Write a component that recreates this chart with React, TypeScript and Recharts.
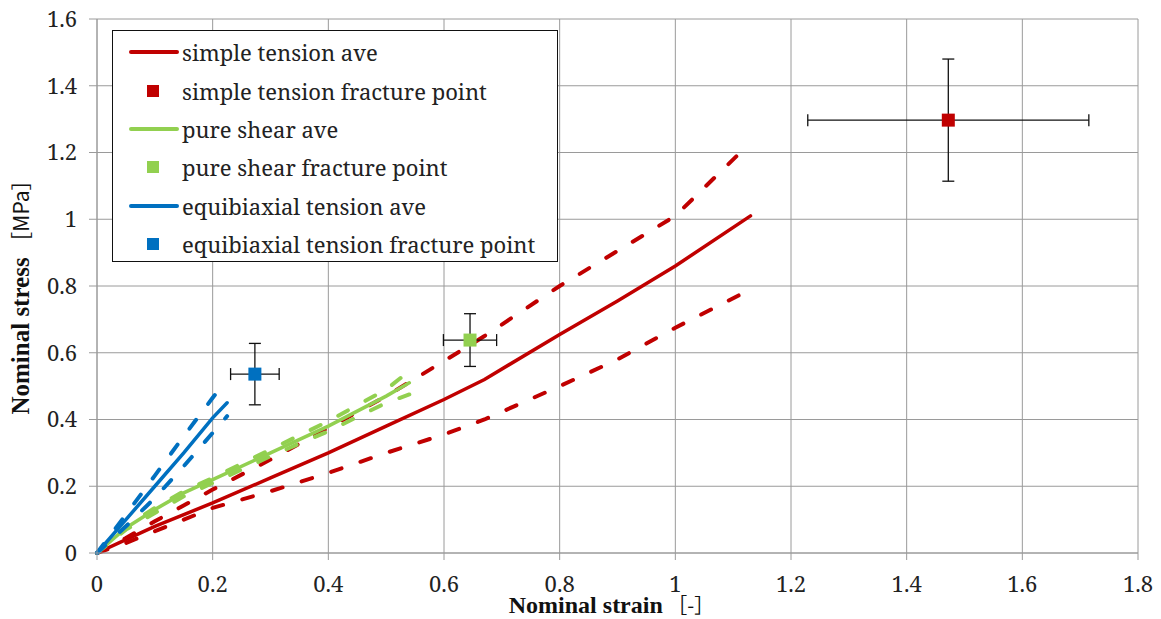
import React from 'react'
import { ComposedChart, Line, Scatter, ErrorBar, XAxis, YAxis, CartesianGrid, Legend } from 'recharts'

const RED = '#C00000'
const GREEN = '#92D050'
const BLUE = '#0070C0'

// simple tension (average and the two scatter bounds)
const stStrain = [0, 0.05, 0.1, 0.2, 0.3, 0.4, 0.5, 0.6, 0.67, 0.8, 0.9, 1.0, 1.13]
const stAve = [0, 0.04, 0.08, 0.15, 0.225, 0.3, 0.38, 0.46, 0.52, 0.655, 0.755, 0.86, 1.01]
const stUpper = [0, 0.045, 0.095, 0.19, 0.28, 0.375, 0.47, 0.575, 0.65, 0.8, 0.905, 1.01, 1.23]
const stLower = [0, 0.03, 0.065, 0.135, 0.185, 0.24, 0.3, 0.355, 0.4, 0.5, 0.58, 0.675, 0.79]

// pure shear
const psStrain = [0, 0.05, 0.1, 0.15, 0.2, 0.3, 0.4, 0.5, 0.54]
const psAve = [0, 0.075, 0.13, 0.18, 0.22, 0.3, 0.38, 0.47, 0.51]
const psUpper = [0, 0.08, 0.135, 0.185, 0.225, 0.31, 0.395, 0.49, 0.545]
const psLower = [0, 0.07, 0.12, 0.17, 0.21, 0.29, 0.365, 0.45, 0.475]

// equibiaxial tension
const ebStrain = [0, 0.05, 0.1, 0.15, 0.2, 0.225]
const ebAve = [0, 0.1, 0.2, 0.3, 0.405, 0.45]
const ebUpper = [0, 0.115, 0.232, 0.35, 0.465, 0.52]
const ebLower = [0, 0.08, 0.165, 0.26, 0.36, 0.41]

// fracture points: simple tension, pure shear, equibiaxial tension
const fracStrain = [1.472, 0.645, 0.273]
const fracStress = [1.297, 0.638, 0.536]
const fracStrainErr = [0.243, 0.046, 0.042]
const fracStressErr = [0.183, 0.079, 0.092]
const fracColors = [RED, GREEN, BLUE]

const xTicks = [0, 0.2, 0.4, 0.6, 0.8, 1, 1.2, 1.4, 1.6, 1.8]
const yTicks = [0, 0.2, 0.4, 0.6, 0.8, 1, 1.2, 1.4, 1.6]

const legendItems = [
    { label: 'simple tension ave', color: RED, kind: 'line' },
    { label: 'simple tension fracture point', color: RED, kind: 'square' },
    { label: 'pure shear ave', color: GREEN, kind: 'line' },
    { label: 'pure shear fracture point', color: GREEN, kind: 'square' },
    { label: 'equibiaxial tension ave', color: BLUE, kind: 'line' },
    { label: 'equibiaxial tension fracture point', color: BLUE, kind: 'square' },
]

const SERIF = 'Noto Serif, Liberation Serif, serif'
const TITLE_FONT = 'Liberation Serif, serif'
const CJK = 'Noto Sans CJK JP, sans-serif'

const zip = (xs: number[], ys: number[]) => xs.map((x, i) => ({ x, y: ys[i] }))

const fracData = fracStrain.map((x, i) => [{
    x,
    y: fracStress[i],
    ex: fracStrainErr[i],
    ey: fracStressErr[i],
}])

const Square = (props: any) => {
    const { cx, cy, fill } = props
    if (cx == null || cy == null) return null
    return <rect x={cx - 6.5} y={cy - 6.5} width={13} height={13} fill={fill} />
}

const LegendBox = () => (
    <div style={{
        boxSizing: 'border-box', width: 446, height: 232, border: '1px solid #111',
        background: '#fff', paddingTop: 2, fontFamily: SERIF, fontSize: 22, color: '#222',
    }}>
        {legendItems.map((item) => (
            <div key={item.label} style={{ height: 38.4, display: 'flex', alignItems: 'center', position: 'relative' }}>
                {item.kind === 'line' ? (
                    <div style={{ position: 'absolute', left: 16, width: 50, height: 4, borderRadius: 2, background: item.color }} />
                ) : (
                    <div style={{ position: 'absolute', left: 34, width: 12, height: 12, background: item.color }} />
                )}
                <span style={{ position: 'absolute', left: 69, whiteSpace: 'nowrap', lineHeight: 1 }}>{item.label}</span>
            </div>
        ))}
    </div>
)

const XTitle = (props: any) => {
    const { viewBox } = props
    const cx = viewBox.x + viewBox.width / 2 - 6
    return (
        <text x={cx} y={613} textAnchor="middle" fontFamily={TITLE_FONT} fontSize={24} fill="#111">
            <tspan fontWeight="bold">Nominal strain</tspan>
            <tspan fontFamily={CJK} fontSize={20}> ［-］</tspan>
        </text>
    )
}

const YTitle = () => {
    const cx = 20
    const cy = 292
    return (
        <text x={cx} y={cy} transform={`rotate(-90, ${cx}, ${cy})`} textAnchor="middle" dominantBaseline="central"
            fontFamily={TITLE_FONT} fontSize={25} fill="#111">
            <tspan fontWeight="bold">Nominal stress</tspan>
            <tspan fontFamily={CJK} fontSize={21}> ［MPa］</tspan>
        </text>
    )
}

export default function App() {
    const solid = { strokeWidth: 3.5, dot: false, isAnimationActive: false, strokeLinecap: 'round' as const }
    const dashed = { strokeWidth: 4, strokeDasharray: '11 20', dot: false, isAnimationActive: false, strokeLinecap: 'round' as const }

    return (
        <div style={{ position: 'absolute', left: 0, top: 0, width: 1161, height: 619, background: '#fff' }}>
            <ComposedChart width={1161} height={619} margin={{ top: 19, right: 23, left: 0, bottom: 0 }}>
                <CartesianGrid stroke="#9a9a9a" strokeWidth={1} />
                <XAxis
                    type="number"
                    dataKey="x"
                    domain={[0, 1.8]}
                    ticks={xTicks}
                    height={66}
                    tickSize={7}
                    tickMargin={16}
                    stroke="#9a9a9a"
                    tick={{ fontFamily: SERIF, fontSize: 22, fill: '#222' }}
                    tickFormatter={(v) => String(v)}
                    label={<XTitle />}
                />
                <YAxis
                    type="number"
                    dataKey="y"
                    domain={[0, 1.6]}
                    ticks={yTicks}
                    width={97}
                    tickSize={8}
                    tickMargin={12}
                    stroke="#9a9a9a"
                    tick={{ fontFamily: SERIF, fontSize: 22, fill: '#222' }}
                    tickFormatter={(v) => String(v)}
                    label={<YTitle />}
                />
                <Legend
                    layout="vertical"
                    align="center"
                    verticalAlign="middle"
                    wrapperStyle={{ left: 112, top: 30, width: 446, height: 232 }}
                    content={() => <LegendBox />}
                />

                <Line data={zip(stStrain, stUpper)} dataKey="y" stroke={RED} {...dashed} legendType="none" />
                <Line data={zip(stStrain, stLower)} dataKey="y" stroke={RED} {...dashed} legendType="none" />
                <Line data={zip(stStrain, stAve)} dataKey="y" stroke={RED} {...solid} />

                <Line data={zip(psStrain, psUpper)} dataKey="y" stroke={GREEN} {...dashed} legendType="none" />
                <Line data={zip(psStrain, psLower)} dataKey="y" stroke={GREEN} {...dashed} legendType="none" />
                <Line data={zip(psStrain, psAve)} dataKey="y" stroke={GREEN} {...solid} />

                <Line data={zip(ebStrain, ebUpper)} dataKey="y" stroke={BLUE} {...dashed} legendType="none" />
                <Line data={zip(ebStrain, ebLower)} dataKey="y" stroke={BLUE} {...dashed} legendType="none" />
                <Line data={zip(ebStrain, ebAve)} dataKey="y" stroke={BLUE} {...solid} />

                {fracData.map((d, i) => (
                    <Scatter key={i} data={d} dataKey="y" fill={fracColors[i]} shape={<Square />} isAnimationActive={false}>
                        <ErrorBar dataKey="ex" direction="x" width={6} stroke="#111" strokeWidth={1.3} />
                        <ErrorBar dataKey="ey" direction="y" width={6} stroke="#111" strokeWidth={1.3} />
                    </Scatter>
                ))}
            </ComposedChart>
        </div>
    )
}
